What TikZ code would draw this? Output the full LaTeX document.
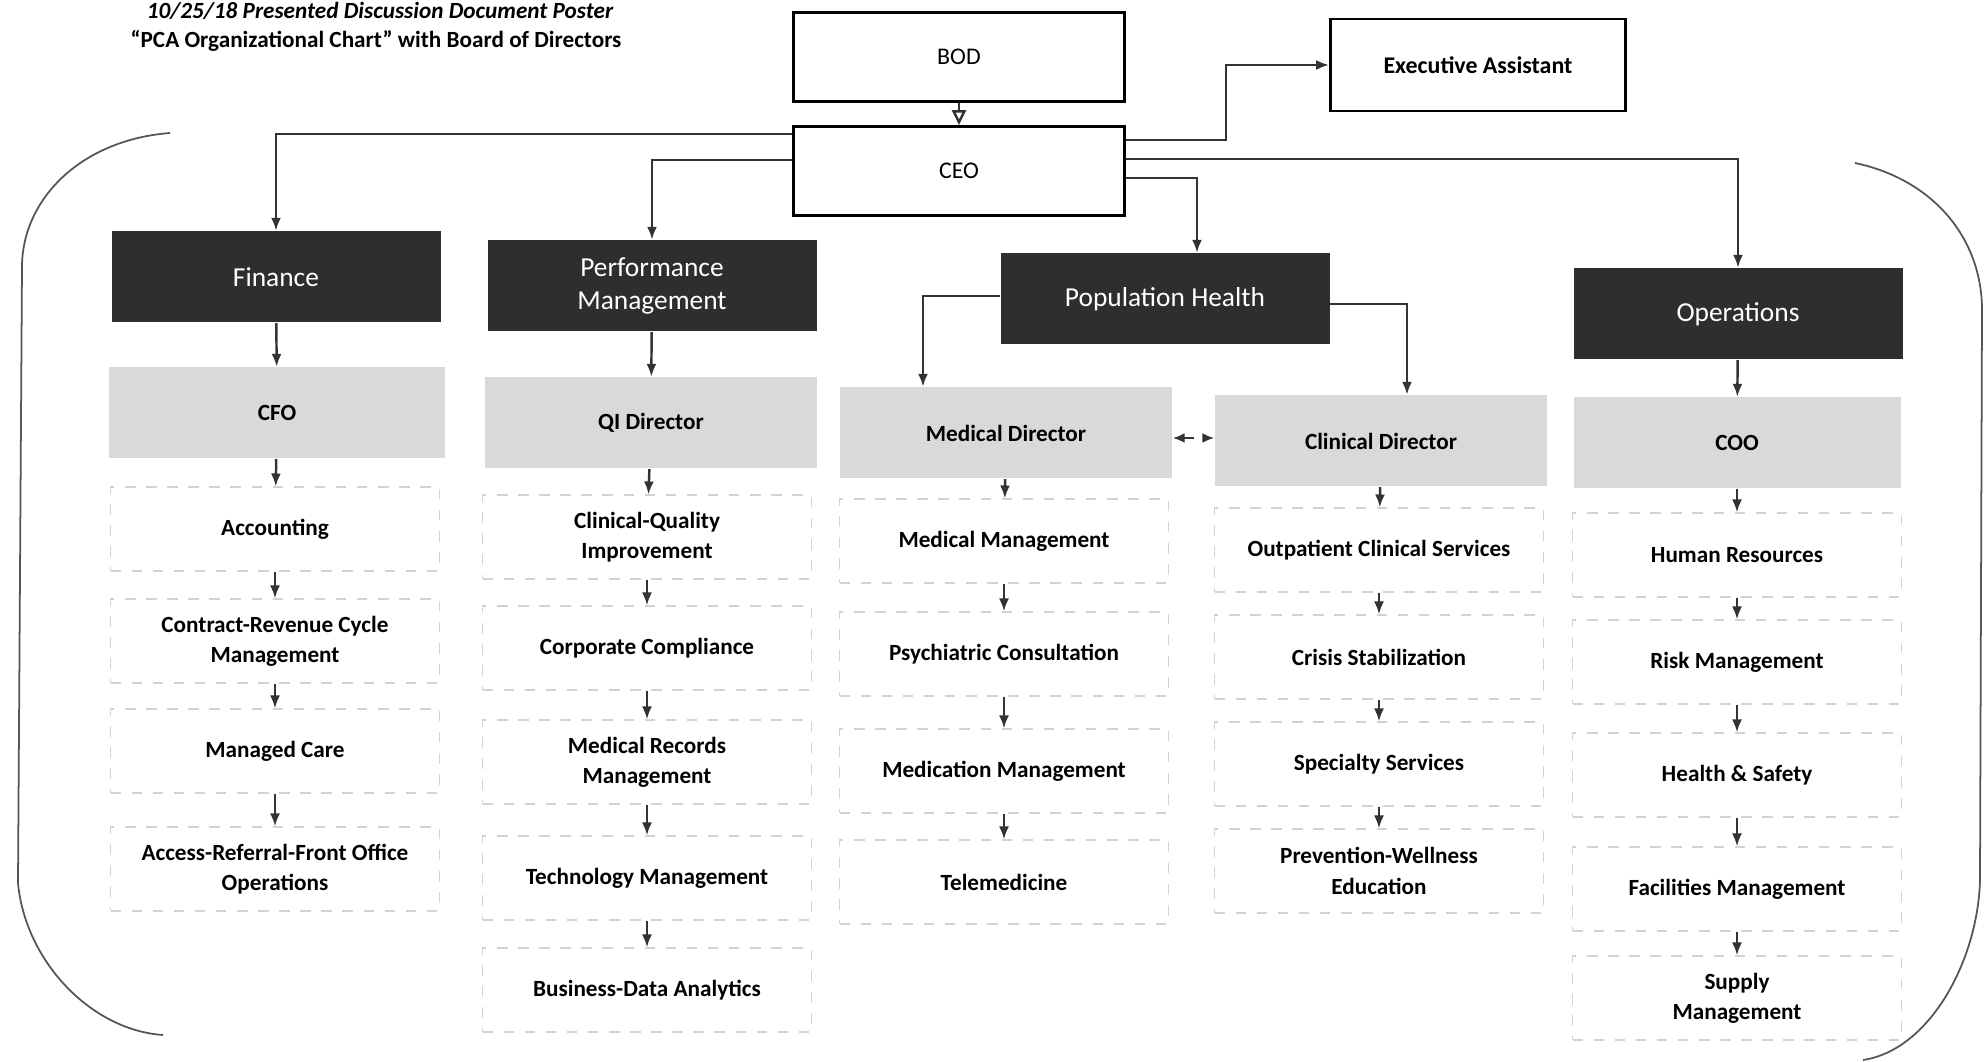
\documentclass[tikz,border=0pt]{standalone}
\usepackage{fontspec}
\setmainfont{Carlito}
\usetikzlibrary{arrows.meta}
\definecolor{deptgray}{HTML}{2E2E2E}
\definecolor{headgray}{HTML}{D9D9D9}
\definecolor{linkgray}{HTML}{333333}
\definecolor{framegray}{HTML}{555555}
\begin{document}
\begin{tikzpicture}[x=0.1mm, y=-0.1mm]
\tikzset{topbox/.style={draw=black, line width=0.8pt, minimum width=33.1mm, minimum height=8.9mm, font=\fontsize{6.8}{8}\selectfont}}
\tikzset{deptbox/.style={fill=deptgray, text=white, minimum width=32.9mm, minimum height=9.1mm, align=center, font=\fontsize{7.8}{9.4}\selectfont}}
\tikzset{headbox/.style={fill=headgray, minimum width=33.2mm, minimum height=9.1mm, font=\bfseries\fontsize{6.6}{8}\selectfont}}
\tikzset{unitbox/.style={draw=gray!35, dashed, line width=0.3pt, minimum width=32.9mm, minimum height=8.4mm, align=center, font=\bfseries\fontsize{6.6}{8.6}\selectfont}}
\tikzset{link/.style={draw=linkgray, line width=0.7pt, -{Latex[length=1.3mm, width=1mm]}}}
\useasboundingbox (0,0) rectangle (1986,1062);
\draw[framegray, line width=0.5pt] (170,133) .. controls (80,140) and (22,200) .. (22,267) -- (18,883) .. controls (25,960) and (90,1030) .. (163,1035);
\draw[framegray, line width=0.5pt] (1855,163) .. controls (1935,180) and (1982,240) .. (1982,310) -- (1980,880) .. controls (1978,960) and (1930,1050) .. (1863,1060);
\node[font=\bfseries\itshape\fontsize{6.6}{8}\selectfont] (subtitle) at (380,11) {10/25/18 Presented Discussion Document Poster};
\node[font=\bfseries\fontsize{6.6}{8}\selectfont] (title) at (376,41) {“PCA Organizational Chart” with Board of Directors};
\node[topbox] (bod) at (959,57) {BOD};
\node[topbox, minimum width=29.5mm, minimum height=9.2mm, font=\bfseries\fontsize{6.8}{8}\selectfont] (assistant) at (1478,65) {Executive Assistant};
\node[topbox] (ceo) at (959,171) {CEO};
\node[deptbox] (finance) at (276,277) {Finance};
\node[deptbox] (perf) at (652,286) {Performance\\Management};
\node[deptbox] (pophealth) at (1165,299) {Population Health};
\node[deptbox] (operations) at (1738,314) {Operations};
\node[headbox, minimum width=33.6mm] (cfo) at (277,413) {CFO};
\node[headbox] (qi) at (651,423) {QI Director};
\node[headbox] (meddir) at (1006,433) {Medical Director};
\node[headbox] (clindir) at (1381,441) {Clinical Director};
\node[headbox, minimum width=32.7mm] (coo) at (1737,443) {COO};
\node[unitbox] (accounting) at (275,529) {Accounting};
\node[unitbox] (revenue) at (275,641) {Contract-Revenue Cycle\\Management};
\node[unitbox] (managedcare) at (275,751) {Managed Care};
\node[unitbox] (frontoffice) at (275,869) {Access-Referral-Front Office\\Operations};
\node[unitbox] (quality) at (647,537) {Clinical-Quality\\Improvement};
\node[unitbox] (compliance) at (647,648) {Corporate Compliance};
\node[unitbox] (records) at (647,762) {Medical Records\\Management};
\node[unitbox] (technology) at (647,878) {Technology Management};
\node[unitbox] (analytics) at (647,990) {Business-Data Analytics};
\node[unitbox] (medmgmt) at (1004,541) {Medical Management};
\node[unitbox] (psych) at (1004,654) {Psychiatric Consultation};
\node[unitbox] (medication) at (1004,771) {Medication Management};
\node[unitbox] (telemed) at (1004,882) {Telemedicine};
\node[unitbox] (outpatient) at (1379,550) {Outpatient Clinical Services};
\node[unitbox] (crisis) at (1379,657) {Crisis Stabilization};
\node[unitbox] (specialty) at (1379,764) {Specialty Services};
\node[unitbox] (prevention) at (1379,871) {Prevention-Wellness\\Education};
\node[unitbox] (hr) at (1737,555) {Human Resources};
\node[unitbox] (risk) at (1737,662) {Risk Management};
\node[unitbox] (safety) at (1737,775) {Health \& Safety};
\node[unitbox] (facilities) at (1737,889) {Facilities Management};
\node[unitbox] (supply) at (1737,998) {Supply\\Management};
\draw[draw=linkgray, line width=0.7pt, -{Triangle[open, length=1.5mm, width=1.4mm]}] (bod) -- (ceo);
\draw[link] (ceo.east |- 0,140) -- (1226,140) |- (assistant.west);
\draw[link] (ceo.west |- 0,134) -| (finance.north);
\draw[link] (ceo.west |- 0,160) -| (perf.north);
\draw[link] (ceo.east |- 0,178) -| ([xshift=3.2mm]pophealth.north);
\draw[link] (ceo.east |- 0,159) -| (operations.north);
\draw[link] (finance) -- (cfo);
\draw[link] (perf) -- (qi);
\draw[link] (pophealth.west |- 0,296) -| ([xshift=-8.3mm]meddir.north);
\draw[link] (pophealth.east |- 0,304) -| ([xshift=2.6mm]clindir.north);
\draw[link] (operations) -- (coo);
\draw[link, dashed, {Latex[length=1.2mm, width=1mm]}-{Latex[length=1.2mm, width=1mm]}] (meddir.east |- 0,438) -- (clindir.west |- 0,438);
\draw[link] (cfo) -- (accounting);
\draw[link] (accounting) -- (revenue);
\draw[link] (revenue) -- (managedcare);
\draw[link] (managedcare) -- (frontoffice);
\draw[link] (qi) -- (quality);
\draw[link] (quality) -- (compliance);
\draw[link] (compliance) -- (records);
\draw[link] (records) -- (technology);
\draw[link] (technology) -- (analytics);
\draw[link] (meddir) -- (medmgmt);
\draw[link] (medmgmt) -- (psych);
\draw[link] (psych) -- (medication);
\draw[link] (medication) -- (telemed);
\draw[link] (clindir) -- (outpatient);
\draw[link] (outpatient) -- (crisis);
\draw[link] (crisis) -- (specialty);
\draw[link] (specialty) -- (prevention);
\draw[link] (coo) -- (hr);
\draw[link] (hr) -- (risk);
\draw[link] (risk) -- (safety);
\draw[link] (safety) -- (facilities);
\draw[link] (facilities) -- (supply);
\end{tikzpicture}
\end{document}
